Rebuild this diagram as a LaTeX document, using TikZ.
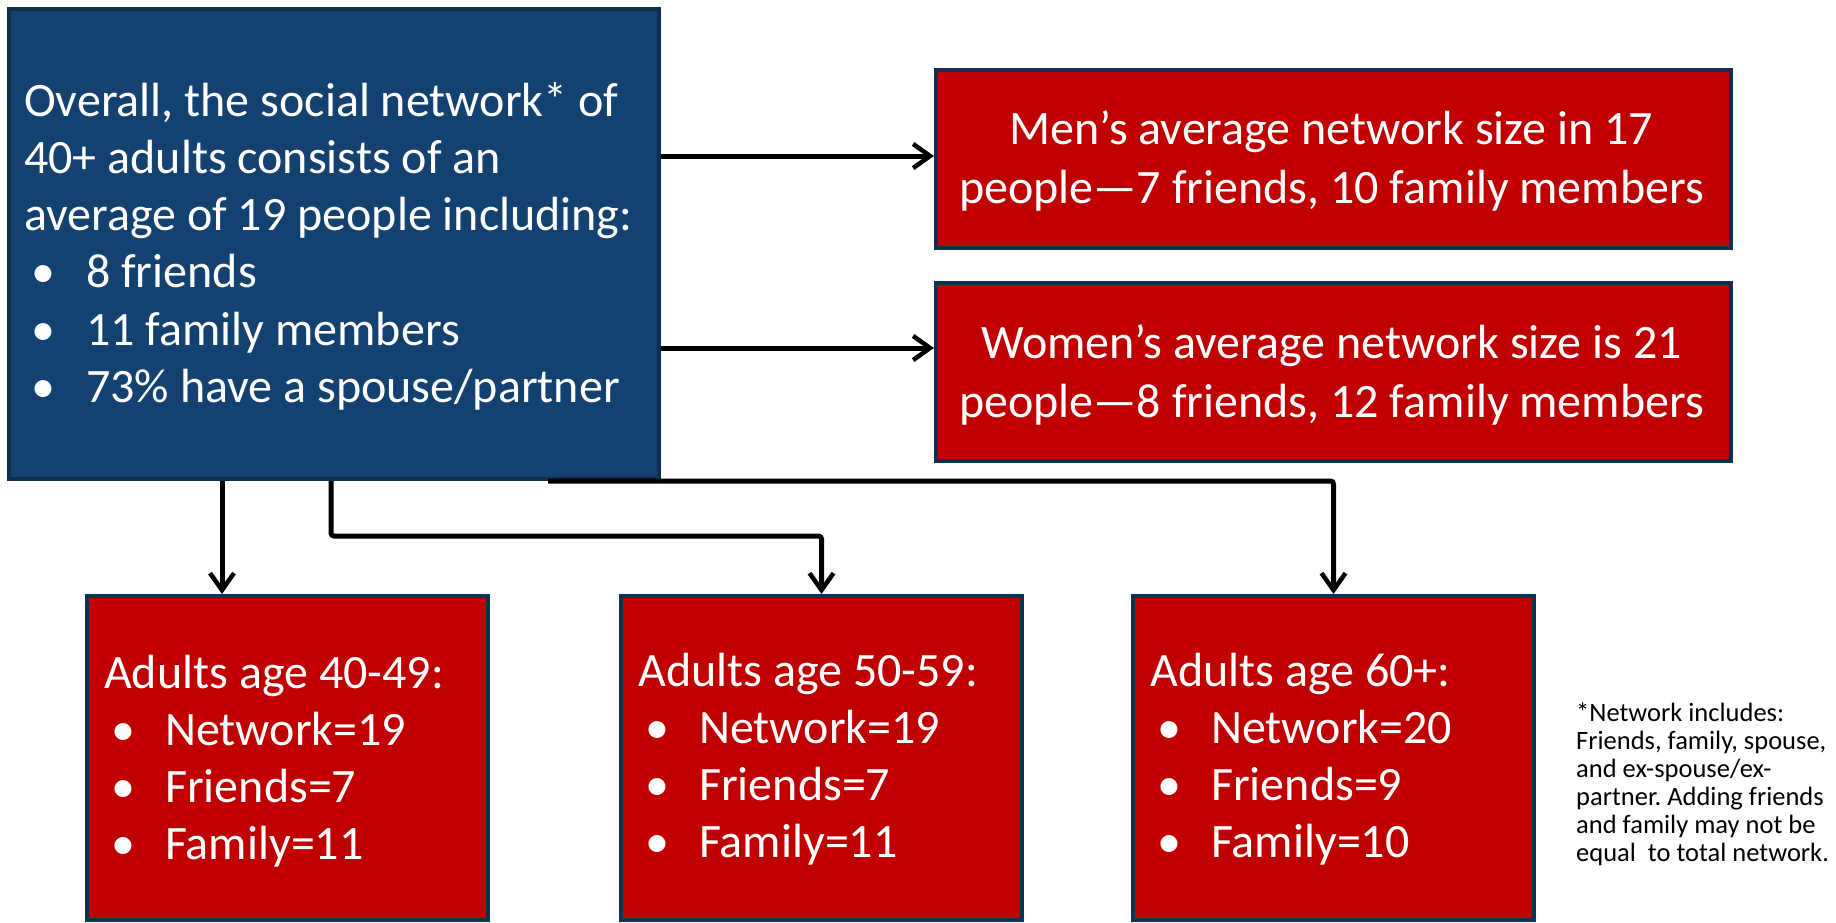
\documentclass[tikz,border=0pt]{standalone}
\usepackage{fontspec}
\setmainfont{Carlito}
\usetikzlibrary{arrows.meta}
\definecolor{bluefill}{RGB}{20,66,112}
\definecolor{blueedge}{RGB}{14,46,80}
\definecolor{redfill}{RGB}{192,0,0}
\definecolor{rededge}{RGB}{16,48,80}
\newcommand{\bulitem}[1]{\makebox[#1][l]{\hspace{7pt}•}}
\frenchspacing
\begin{document}
\begin{tikzpicture}[x=1pt,y=-1pt,
  bluebox/.style={draw=blueedge, line width=4pt, fill=bluefill, inner sep=0pt, anchor=north west, minimum width=650pt, minimum height=470pt},
  redbox/.style={draw=rededge, line width=4pt, fill=redfill, inner sep=0pt, anchor=north west},
  wtxt/.style={text=white, inner sep=0pt, font=\fontsize{48}{57.3}\selectfont},
  conn/.style={line width=5pt, rounded corners=3pt, -{Straight Barb[length=17pt,width=24pt,line width=4.5pt]}}
]
\useasboundingbox (0,0) rectangle (1836,922);
% boxes
\node[bluebox] (blue) at (7,7) {};
\node[redbox, minimum width=795pt, minimum height=178pt] (men) at (934,68) {};
\node[redbox, minimum width=795pt, minimum height=178pt] (women) at (934,281) {};
\node[redbox, minimum width=401pt, minimum height=324pt] (a1) at (85,594) {};
\node[redbox, minimum width=401pt, minimum height=324pt] (a2) at (619,594) {};
\node[redbox, minimum width=401pt, minimum height=324pt] (a3) at (1131,594) {};
% texts
\node[wtxt, anchor=base west] (bt) at (24,116) {\begin{tabular}[t]{@{}l@{}}Overall, the social network* of\\ 40+ adults consists of an\\ average of 19 people including:\\ \bulitem{62pt}8 friends\\ \bulitem{62pt}11 family members\\ \bulitem{62pt}73\% have a spouse/partner\end{tabular}};
\node[wtxt, anchor=base, font=\fontsize{48}{59}\selectfont] (mt) at (1331.5,144) {\begin{tabular}[t]{@{}c@{}}Men’s average network size in 17\\ people—7 friends, 10 family members\end{tabular}};
\node[wtxt, anchor=base, font=\fontsize{48}{59}\selectfont] (wt) at (1331.5,358) {\begin{tabular}[t]{@{}c@{}}Women’s average network size is 21\\ people—8 friends, 12 family members\end{tabular}};
\node[wtxt, anchor=base west] (t1) at (104,688) {\begin{tabular}[t]{@{}l@{}}Adults age 40-49:\\ \bulitem{61pt}Network=19\\ \bulitem{61pt}Friends=7\\ \bulitem{61pt}Family=11\end{tabular}};
\node[wtxt, anchor=base west] (t2) at (638,686) {\begin{tabular}[t]{@{}l@{}}Adults age 50-59:\\ \bulitem{61pt}Network=19\\ \bulitem{61pt}Friends=7\\ \bulitem{61pt}Family=11\end{tabular}};
\node[wtxt, anchor=base west] (t3) at (1150,686) {\begin{tabular}[t]{@{}l@{}}Adults age 60+:\\ \bulitem{61pt}Network=20\\ \bulitem{61pt}Friends=9\\ \bulitem{61pt}Family=10\end{tabular}};
\node[inner sep=0pt, anchor=base west, font=\fontsize{26.5}{28}\selectfont] (note) at (1576,721) {\begin{tabular}[t]{@{}l@{}}*Network includes:\\ Friends, family, spouse,\\ and ex-spouse/ex-\\ partner. Adding friends\\ and family may not be\\ equal~ to total network.\end{tabular}};
% connectors
\coordinate (ym) at (0,156);
\coordinate (yw) at (0,348);
\coordinate (x1) at (222,0);
\coordinate (x2) at (331,0);
\coordinate (x3) at (548,0);
\coordinate (yb) at (0,536);
\draw[conn] (blue.east |- ym) -- (men.west |- ym);
\draw[conn] (blue.east |- yw) -- (women.west |- yw);
\draw[conn] (x1 |- blue.south) -- (x1 |- a1.north);
\draw[conn] (x2 |- blue.south) -- (x2 |- yb) -- (a2.north |- yb) -- (a2.north);
\draw[conn] (x3 |- blue.south) -- (a3.north |- blue.south) -- (a3.north);
\end{tikzpicture}
\end{document}
